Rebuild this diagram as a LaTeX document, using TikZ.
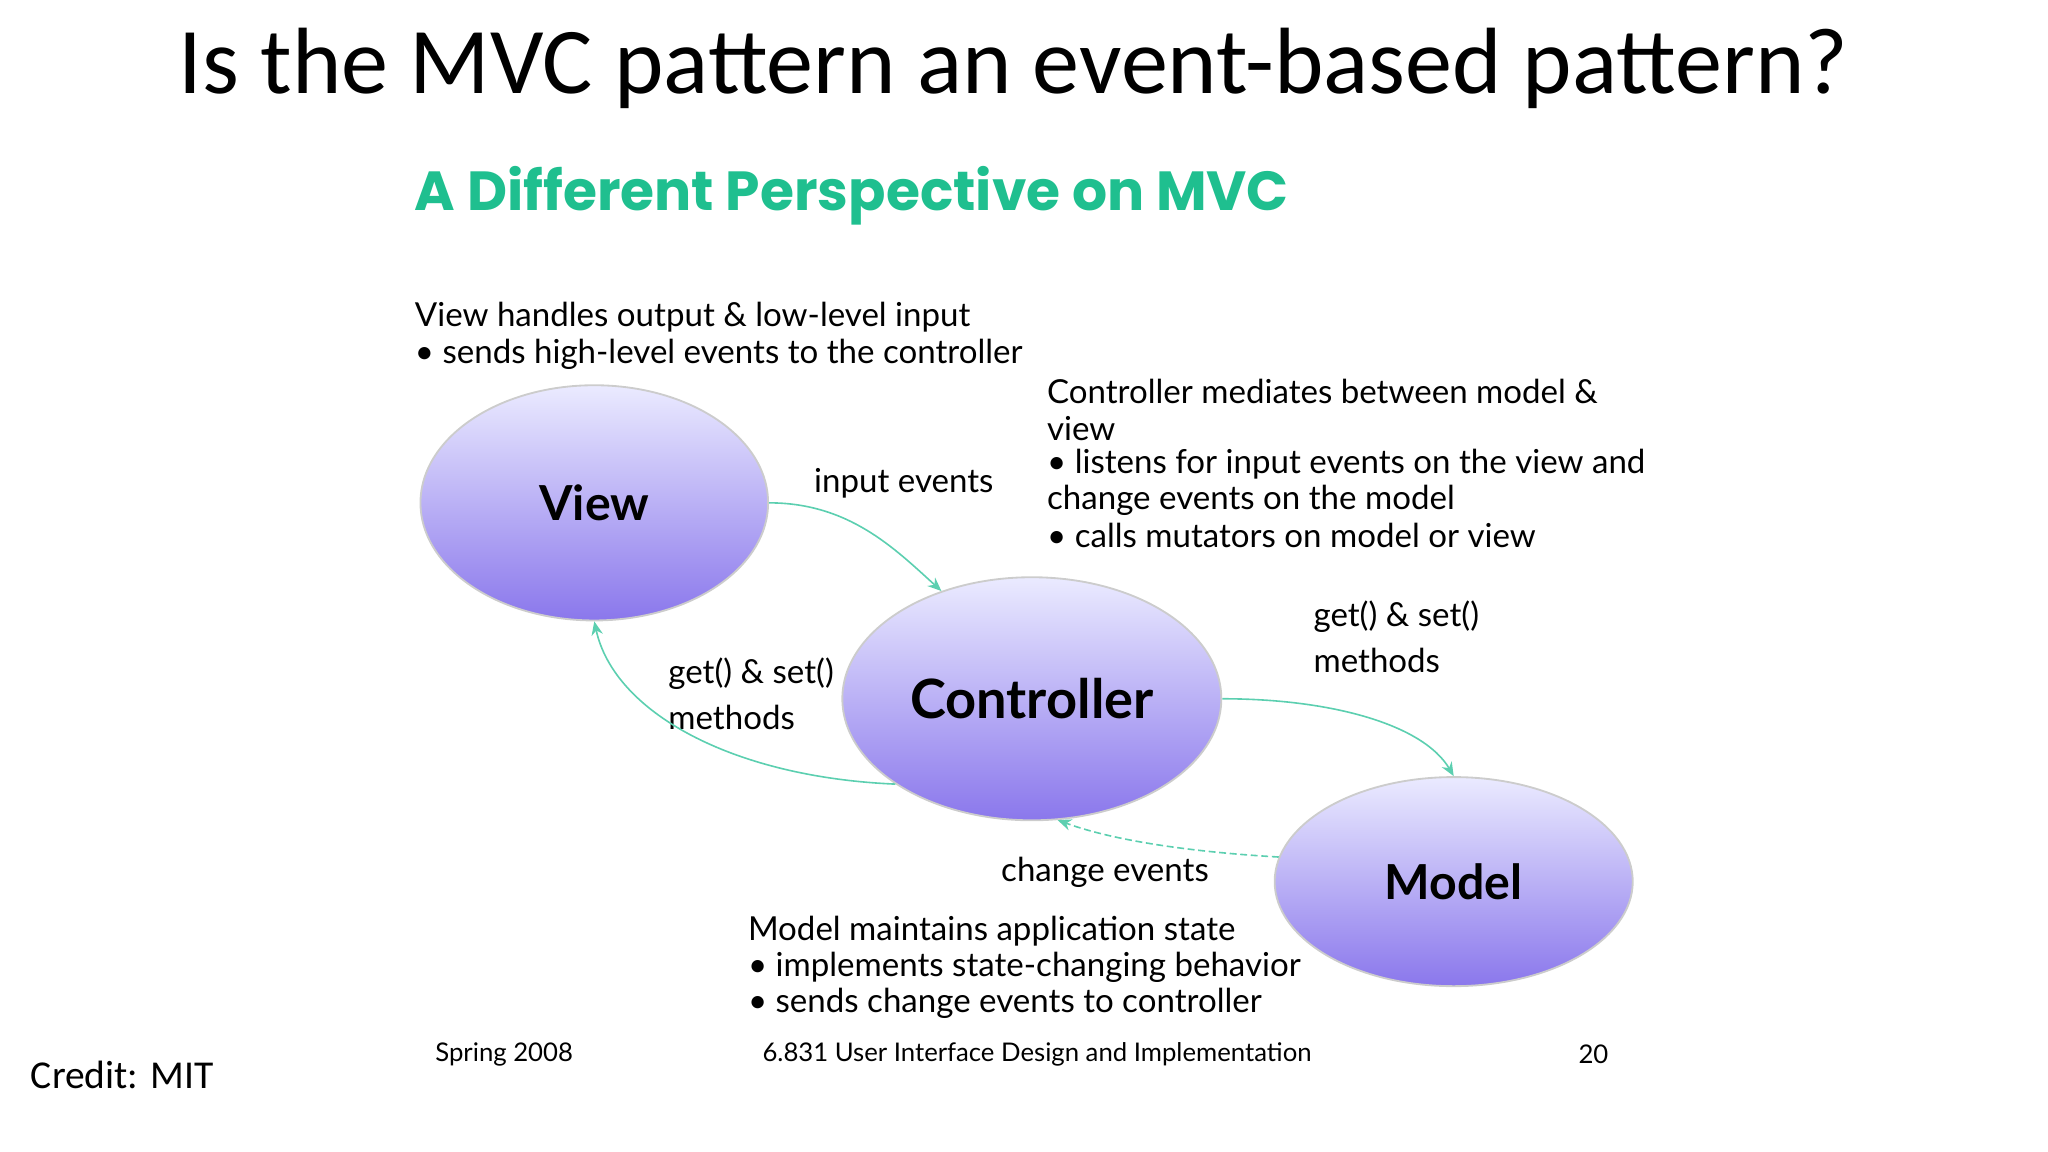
\documentclass[tikz,border=0pt]{standalone}
\usepackage{fontspec}
\setmainfont{Lato}
\newfontfamily\titlefont{Carlito}
\newfontfamily\headfont{Poppins}
\usetikzlibrary{arrows.meta,shapes.geometric}
\definecolor{teal1}{HTML}{5CCFB0}
\definecolor{headgreen}{HTML}{1FBF8F}
\tikzset{
 x=0.01cm,y=-0.01cm,
 blob/.style={ellipse,draw=gray!40,top color=blue!8,bottom color=blue!45!white!85!violet,inner sep=0pt},
 body/.style={anchor=west,font=\fontsize{7.2}{8}\selectfont,inner sep=0pt},
 lbl/.style={font=\fontsize{7.2}{8}\selectfont,inner sep=0pt},
 conn/.style={teal1,line width=0.35pt,-{Stealth[length=3pt,width=2.5pt]}},
 foot/.style={font=\fontsize{5.6}{6}\selectfont,inner sep=0pt}
}
\begin{document}
\begin{tikzpicture}
\useasboundingbox (0,0) rectangle (1568,882);
\node[font=\titlefont\fontsize{20.5}{24}\selectfont] (title) at (776,52) {Is the MVC pattern an event-based pattern?};
\node[anchor=west,inner sep=0pt,text=headgreen,font=\headfont\bfseries\fontsize{12}{13}\selectfont] (head) at (317,150) {A Different Perspective on MVC};
\node[blob,minimum width=2.66cm,minimum height=1.8cm] (view) at (455,385) {};
\node[font=\bfseries\fontsize{10.5}{12}\selectfont] at (view) {View};
\node[blob,minimum width=2.9cm,minimum height=1.86cm] (ctrl) at (790,535) {};
\node[font=\bfseries\fontsize{11.8}{13}\selectfont] at (ctrl) {Controller};
\node[blob,minimum width=2.74cm,minimum height=1.6cm] (model) at (1113,675) {};
\node[font=\bfseries\fontsize{10.5}{12}\selectfont] at (model) {Model};
\node[body] (v1) at (317,243) {View handles output \& low-level input};
\node[body] (v2) at (317,271) {\textbullet{} sends high-level events to the controller};
\node[body] (c1) at (801,300) {Controller mediates between model \&};
\node[body] (c2) at (801,328) {view};
\node[body] (c3) at (801,355) {\textbullet{} listens for input events on the view and};
\node[body] (c4) at (801,383) {change events on the model};
\node[body] (c5) at (801,410) {\textbullet{} calls mutators on model or view};
\node[lbl] (ie) at (692,370) {input events};
\node[body] (gs1) at (1005,472) {get() \& set()};
\node[body] (gm1) at (1005,506) {methods};
\node[body] (gs2) at (511,516) {get() \& set()};
\node[body] (gm2) at (511,549) {methods};
\node[lbl] (ce) at (846,668) {change events};
\node[body] (m1) at (572,713) {Model maintains application state};
\node[body] (m2) at (572,741) {\textbullet{} implements state-changing behavior};
\node[body] (m3) at (572,768) {\textbullet{} sends change events to controller};
\node[foot] (f1) at (386,807) {Spring 2008};
\node[foot] (f2) at (794,807) {6.831 User Interface Design and Implementation};
\node[foot] (f3) at (1220,807) {20};
\node[anchor=west,inner sep=0pt,font=\titlefont\fontsize{8.6}{10}\selectfont] (cr) at (23,823) {Credit: MIT};
\draw[conn] (view.east) .. controls (650,385) and (685,420) .. (ctrl.130);
\draw[conn] (ctrl.212) .. controls (560,595) and (470,545) .. (view.south);
\draw[conn] (ctrl.east) .. controls (1020,535) and (1090,555) .. (model.north);
\draw[conn,dash pattern=on 1.5pt off 0.8pt] (model.172) .. controls (960,655) and (870,650) .. (ctrl.-78);
\end{tikzpicture}
\end{document}
